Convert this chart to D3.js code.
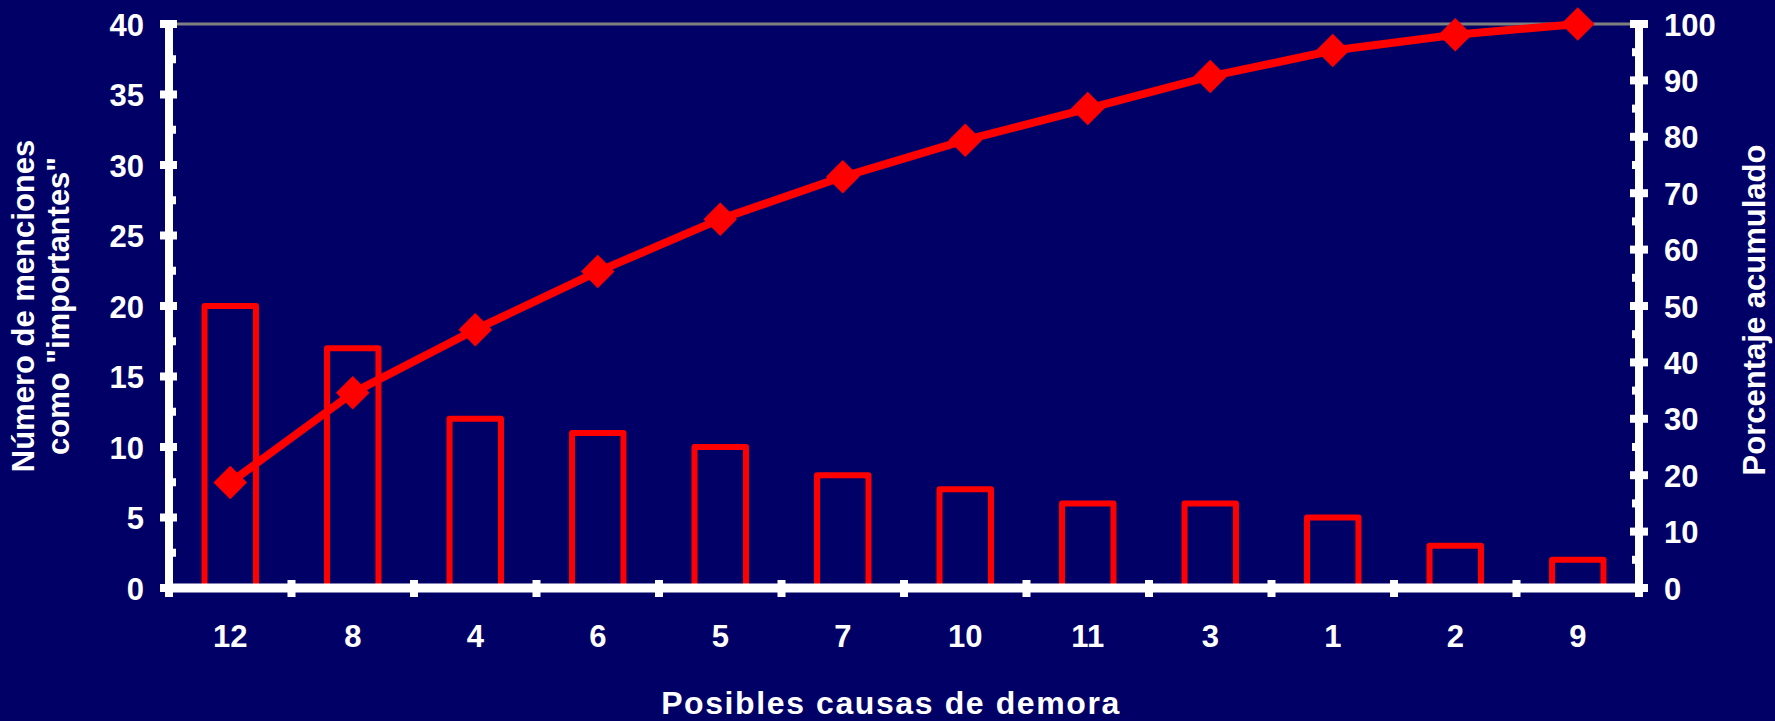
<!DOCTYPE html>
<html>
<head>
<meta charset="utf-8">
<script src="https://cdn.jsdelivr.net/npm/d3@7"></script>
<style>
  html, body { margin: 0; padding: 0; background: #000066; }
  svg { display: block; }
  text { font-family: "Liberation Sans", Arial, sans-serif; font-weight: bold; fill: #ffffff; }
</style>
</head>
<body>
<svg id="chart" width="1775" height="721"></svg>
<script>
// Pareto data: causes of delay, mentions and cumulative percentage
const causas = ["12", "8", "4", "6", "5", "7", "10", "11", "3", "1", "2", "9"];
const menciones = [20, 17, 12, 11, 10, 8, 7, 6, 6, 5, 3, 2];
const acumulado = [18.7, 34.6, 45.8, 56.1, 65.4, 72.9, 79.4, 85.0, 90.7, 95.3, 98.1, 100];
const ticksIzq = [0, 5, 10, 15, 20, 25, 30, 35, 40];
const ticksDer = [0, 10, 20, 30, 40, 50, 60, 70, 80, 90, 100];

(function () {
  const W = 1775, H = 721;
  const pLeft = 169, pRight = 1639, pTop = 24, pBottom = 588;

  const svg = d3.select("#chart");
  svg.append("rect").attr("width", W).attr("height", H).attr("fill", "#000066");

  const x = d3.scaleBand().domain(causas).range([pLeft, pRight]).paddingInner(0).paddingOuter(0);
  const yL = d3.scaleLinear().domain([0, 40]).range([pBottom, pTop]);
  const yR = d3.scaleLinear().domain([0, 100]).range([pBottom, pTop]);

  // top gridline
  svg.append("line")
    .attr("x1", pLeft).attr("x2", pRight)
    .attr("y1", yL(40)).attr("y2", yL(40))
    .attr("stroke", "#808080").attr("stroke-width", 3);

  // bars (outlined)
  const barW = x.bandwidth() * 0.42;
  svg.append("g").selectAll("rect").data(causas).join("rect")
    .attr("x", (d) => x(d) + x.bandwidth() / 2 - barW / 2)
    .attr("y", (d, i) => yL(menciones[i]))
    .attr("width", barW)
    .attr("height", (d, i) => yL(0) - yL(menciones[i]))
    .attr("fill", "none")
    .attr("stroke", "#ff0000")
    .attr("stroke-width", 6)
    .attr("stroke-linejoin", "round");

  // axis lines
  const axisCol = "#ffffff";
  const g = svg.append("g");
  g.append("line").attr("x1", pLeft).attr("x2", pLeft).attr("y1", pTop - 4).attr("y2", pBottom + 4)
    .attr("stroke", axisCol).attr("stroke-width", 8);
  g.append("line").attr("x1", pRight).attr("x2", pRight).attr("y1", pTop - 4).attr("y2", pBottom + 4)
    .attr("stroke", axisCol).attr("stroke-width", 8);
  g.append("line").attr("x1", pLeft - 4).attr("x2", pRight + 4).attr("y1", pBottom).attr("y2", pBottom)
    .attr("stroke", axisCol).attr("stroke-width", 9);

  // left axis ticks: major crossing, minor inside
  g.selectAll(".tl").data(ticksIzq).join("rect").attr("class", "tl")
    .attr("x", pLeft - 9).attr("y", (d) => yL(d) - 4).attr("width", 17).attr("height", 8).attr("fill", axisCol);
  g.selectAll(".tlm").data(ticksIzq.slice(0, -1).map((d) => d + 2.5)).join("rect").attr("class", "tlm")
    .attr("x", pLeft).attr("y", (d) => yL(d) - 4).attr("width", 7).attr("height", 8).attr("fill", axisCol);

  // right axis ticks
  g.selectAll(".tr").data(ticksDer).join("rect").attr("class", "tr")
    .attr("x", pRight - 9).attr("y", (d) => yR(d) - 4).attr("width", 18).attr("height", 8).attr("fill", axisCol);
  g.selectAll(".trm").data(ticksDer.slice(0, -1).map((d) => d + 5)).join("rect").attr("class", "trm")
    .attr("x", pRight - 7).attr("y", (d) => yR(d) - 4).attr("width", 7).attr("height", 8).attr("fill", axisCol);

  // x axis ticks at category boundaries
  const bounds = causas.map((d) => x(d)).concat([pRight]);
  g.selectAll(".tx").data(bounds).join("rect").attr("class", "tx")
    .attr("x", (d) => d - 4).attr("y", pBottom - 8).attr("width", 8).attr("height", 17).attr("fill", axisCol);

  // cumulative line with diamond markers
  const line = d3.line()
    .x((d, i) => x(causas[i]) + x.bandwidth() / 2)
    .y((d) => yR(d));
  svg.append("path").datum(acumulado)
    .attr("d", line)
    .attr("fill", "none")
    .attr("stroke", "#ff0000")
    .attr("stroke-width", 8)
    .attr("stroke-linejoin", "round");

  const diamond = d3.symbol().type(d3.symbolSquare).size(560);
  svg.append("g").selectAll("path").data(acumulado).join("path")
    .attr("d", diamond)
    .attr("transform", (d, i) => `translate(${x(causas[i]) + x.bandwidth() / 2},${yR(d)}) rotate(45)`)
    .attr("fill", "#ff0000");

  // tick labels
  svg.append("g").selectAll("text").data(ticksIzq).join("text")
    .attr("x", 144).attr("y", (d) => yL(d) + 11.5)
    .attr("text-anchor", "end").attr("font-size", 31)
    .text((d) => d);
  svg.append("g").selectAll("text").data(ticksDer).join("text")
    .attr("x", 1664).attr("y", (d) => yR(d) + 11.5)
    .attr("text-anchor", "start").attr("font-size", 31)
    .text((d) => d);
  svg.append("g").selectAll("text").data(causas).join("text")
    .attr("x", (d) => x(d) + x.bandwidth() / 2).attr("y", 647)
    .attr("text-anchor", "middle").attr("font-size", 31)
    .text((d) => d);

  // axis titles
  svg.append("text")
    .attr("x", 891).attr("y", 714)
    .attr("text-anchor", "middle").attr("font-size", 32)
    .attr("letter-spacing", 1.6)
    .text("Posibles causas de demora");

  const tl = svg.append("text")
    .attr("transform", "translate(34,306) rotate(-90)")
    .attr("text-anchor", "middle").attr("font-size", 31);
  tl.append("tspan").attr("x", 0).attr("dy", 0).text("Número de menciones");
  tl.append("tspan").attr("x", 0).attr("dy", 35).text("como \"importantes\"");

  svg.append("text")
    .attr("transform", "translate(1765,310) rotate(-90)")
    .attr("text-anchor", "middle").attr("font-size", 31)
    .text("Porcentaje acumulado");
})();
</script>
</body>
</html>
